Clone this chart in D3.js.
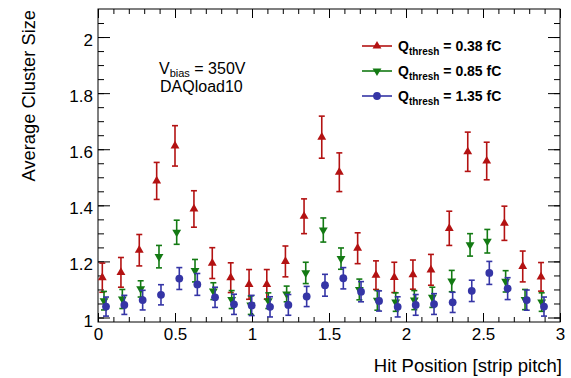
<!DOCTYPE html>
<html>
<head>
<meta charset="utf-8">
<script src="https://cdn.jsdelivr.net/npm/d3@7"></script>
<style>
  body { margin: 0; background: #fff; }
  text { font-family: 'Liberation Sans', Arial, sans-serif; fill: #000; }
</style>
</head>
<body>
<script>
const SVG_DIM = {W: 571, H: 378};
const FRAME = {LEFT: 98, RIGHT: 560, TOP: 9, BOTTOM: 322};

// hit positions (strip pitch) per series
const posLow = [0.028, 0.149, 0.268, 0.381, 0.500, 0.623, 0.742, 0.862, 0.981, 1.096, 1.217, 1.338, 1.453,
                1.567, 1.686, 1.805, 1.924, 2.045, 2.162, 2.281, 2.401, 2.524, 2.639, 2.758, 2.877];
const posMid = [0.039, 0.158, 0.277, 0.396, 0.511, 0.630, 0.749, 0.868, 0.992, 1.106, 1.225, 1.349, 1.463,
                1.578, 1.697, 1.814, 1.933, 2.054, 2.171, 2.297, 2.416, 2.528, 2.647, 2.773, 2.881];
const posHigh = [0.052, 0.171, 0.290, 0.409, 0.528, 0.645, 0.760, 0.883, 0.998, 1.117, 1.236, 1.355, 1.474,
                 1.593, 1.708, 1.825, 1.946, 2.063, 2.182, 2.303, 2.427, 2.541, 2.660, 2.784, 2.896];

// average cluster size and errors
const sizeLow = [1.142, 1.161, 1.240, 1.487, 1.612, 1.387, 1.194, 1.142, 1.118, 1.118, 1.200, 1.361, 1.643,
                 1.518, 1.247, 1.151, 1.143, 1.153, 1.170, 1.318, 1.591, 1.558, 1.336, 1.182, 1.145];
const errLow = [0.052, 0.053, 0.056, 0.066, 0.072, 0.065, 0.055, 0.053, 0.053, 0.053, 0.055, 0.062, 0.075,
                0.069, 0.055, 0.051, 0.054, 0.052, 0.055, 0.061, 0.070, 0.067, 0.061, 0.055, 0.051];
const sizeMid = [1.060, 1.066, 1.102, 1.217, 1.304, 1.167, 1.094, 1.064, 1.044, 1.060, 1.084, 1.159, 1.312,
                 1.210, 1.100, 1.061, 1.055, 1.062, 1.072, 1.130, 1.259, 1.272, 1.129, 1.064, 1.055];
const errMid = [0.033, 0.034, 0.029, 0.040, 0.043, 0.040, 0.030, 0.032, 0.033, 0.028, 0.028, 0.038, 0.043,
                0.038, 0.037, 0.035, 0.033, 0.034, 0.036, 0.038, 0.040, 0.042, 0.038, 0.036, 0.033];
const sizeHigh = [1.039, 1.045, 1.062, 1.081, 1.139, 1.118, 1.072, 1.047, 1.043, 1.038, 1.045, 1.075, 1.115,
                  1.140, 1.092, 1.059, 1.038, 1.045, 1.048, 1.054, 1.095, 1.159, 1.103, 1.062, 1.039];
const errHigh = [0.034, 0.034, 0.035, 0.036, 0.039, 0.039, 0.036, 0.036, 0.036, 0.036, 0.037, 0.036, 0.039,
                 0.038, 0.036, 0.036, 0.036, 0.037, 0.037, 0.036, 0.038, 0.041, 0.039, 0.036, 0.034];

const thresholds = ['0.38', '0.85', '1.35'];

const SERIES = [
  {thr: thresholds[0], x: posLow, y: sizeLow, e: errLow, color: '#b31212', marker: 'up'},
  {thr: thresholds[1], x: posMid, y: sizeMid, e: errMid, color: '#137a13', marker: 'down'},
  {thr: thresholds[2], x: posHigh, y: sizeHigh, e: errHigh, color: '#3535a6', marker: 'circle'}
];

const svg = d3.select('body')
    .append('svg')
    .attr('width', SVG_DIM.W)
    .attr('height', SVG_DIM.H);

const x = d3.scaleLinear().domain([0, 3]).range([FRAME.LEFT, FRAME.RIGHT]);
const y = d3.scaleLinear().domain([0.984, 2.1]).range([FRAME.BOTTOM, FRAME.TOP]);

const xMajor = d3.range(0, 3.001, 0.5);
const xMinor = d3.range(0, 3.001, 0.1);
const yMajor = d3.range(1, 2.001, 0.2);
const yMinor = d3.range(1, 2.1, 0.05);

function styleAxis(g) {
  g.select('.domain').remove();
  g.selectAll('line').attr('stroke', '#000').attr('stroke-width', 1);
}

// bottom axis
svg.append('g')
    .attr('transform', `translate(0,${FRAME.BOTTOM})`)
    .call(d3.axisBottom(x).tickValues(xMinor).tickSize(-5).tickFormat(''))
    .call(styleAxis);
svg.append('g')
    .attr('transform', `translate(0,${FRAME.BOTTOM})`)
    .call(d3.axisBottom(x).tickValues(xMajor).tickSize(-9).tickPadding(6).tickFormat(d3.format('~g')))
    .call(styleAxis)
    .call(g => g.selectAll('text').style('font-size', '17px'));

// top axis
svg.append('g')
    .attr('transform', `translate(0,${FRAME.TOP})`)
    .call(d3.axisTop(x).tickValues(xMinor).tickSize(-5).tickFormat(''))
    .call(styleAxis);
svg.append('g')
    .attr('transform', `translate(0,${FRAME.TOP})`)
    .call(d3.axisTop(x).tickValues(xMajor).tickSize(-9).tickFormat(''))
    .call(styleAxis);

// left axis
svg.append('g')
    .attr('transform', `translate(${FRAME.LEFT},0)`)
    .call(d3.axisLeft(y).tickValues(yMinor).tickSize(-6).tickFormat(''))
    .call(styleAxis);
svg.append('g')
    .attr('transform', `translate(${FRAME.LEFT},0)`)
    .call(d3.axisLeft(y).tickValues(yMajor).tickSize(-12).tickPadding(5).tickFormat(d3.format('~g')))
    .call(styleAxis)
    .call(g => g.selectAll('text').style('font-size', '17px').attr('dy', '0.5em'));

// right axis
svg.append('g')
    .attr('transform', `translate(${FRAME.RIGHT},0)`)
    .call(d3.axisRight(y).tickValues(yMinor).tickSize(-6).tickFormat(''))
    .call(styleAxis);
svg.append('g')
    .attr('transform', `translate(${FRAME.RIGHT},0)`)
    .call(d3.axisRight(y).tickValues(yMajor).tickSize(-12).tickFormat(''))
    .call(styleAxis);

// frame
svg.append('rect')
    .attr('x', FRAME.LEFT)
    .attr('y', FRAME.TOP)
    .attr('width', FRAME.RIGHT - FRAME.LEFT)
    .attr('height', FRAME.BOTTOM - FRAME.TOP)
    .attr('fill', 'none')
    .attr('stroke', '#000')
    .attr('stroke-width', 1);

// axis titles
svg.append('text')
    .attr('x', 562)
    .attr('y', 372)
    .attr('text-anchor', 'end')
    .style('font-size', '18.5px')
    .text('Hit Position [strip pitch]');

svg.append('text')
    .attr('transform', 'translate(35,10) rotate(-90)')
    .attr('text-anchor', 'end')
    .style('font-size', '18.3px')
    .text('Average Cluster Size');

// markers
function marker(sel, kind, color) {
  if (kind === 'circle') {
    sel.append('circle').attr('r', 3.9).attr('fill', color);
  } else {
    sel.append('path')
        .attr('d', d3.symbol().type(d3.symbolTriangle).size(34)())
        .attr('transform', kind === 'down' ? 'rotate(180)' : null)
        .attr('fill', color);
  }
}

// data points with error bars
SERIES.forEach(s => {
  const pts = s.x.map((v, i) => ({x: v, y: s.y[i], e: s.e[i]}));
  const g = svg.append('g');
  const pt = g.selectAll('g')
      .data(pts)
      .enter()
      .append('g')
      .attr('transform', d => `translate(${x(d.x)},${y(d.y)})`);

  pt.append('line')
      .attr('y1', d => y(d.y + d.e) - y(d.y))
      .attr('y2', d => y(d.y - d.e) - y(d.y))
      .attr('stroke', s.color)
      .attr('stroke-width', 1.6);
  pt.selectAll('.cap')
      .data(d => [y(d.y + d.e) - y(d.y), y(d.y - d.e) - y(d.y)])
      .enter()
      .append('line')
      .attr('class', 'cap')
      .attr('x1', -3).attr('x2', 3)
      .attr('y1', d => d).attr('y2', d => d)
      .attr('stroke', s.color)
      .attr('stroke-width', 1.6);

  pt.each(function() { marker(d3.select(this), s.marker, s.color); });
});

// annotation
const note = svg.append('text').style('font-size', '16px');
note.append('tspan').attr('x', 159).attr('y', 74).text('V');
note.append('tspan').attr('dy', 3).style('font-size', '11px').text('bias');
note.append('tspan').attr('dy', -3).text(' = 350V');
svg.append('text')
    .attr('x', 160)
    .attr('y', 92)
    .style('font-size', '16px')
    .text('DAQload10');

// legend
const legend = svg.selectAll('.legend-item')
    .data(SERIES)
    .enter()
    .append('g')
    .attr('class', 'legend-item')
    .attr('transform', (d, i) => `translate(377,${46 + i * 25})`);

legend.append('line')
    .attr('x1', -15).attr('x2', 15)
    .attr('stroke', d => d.color)
    .attr('stroke-width', 1.6);
legend.each(function(d) { marker(d3.select(this), d.marker, d.color); });

const label = legend.append('text')
    .attr('x', 21)
    .attr('y', 5)
    .style('font-size', '14px')
    .style('font-weight', 'bold');
label.append('tspan').text('Q');
label.append('tspan').attr('dy', 4).style('font-size', '10px').text('thresh');
label.append('tspan').attr('dy', -4).text(d => ` = ${d.thr} fC`);
</script>
</body>
</html>
